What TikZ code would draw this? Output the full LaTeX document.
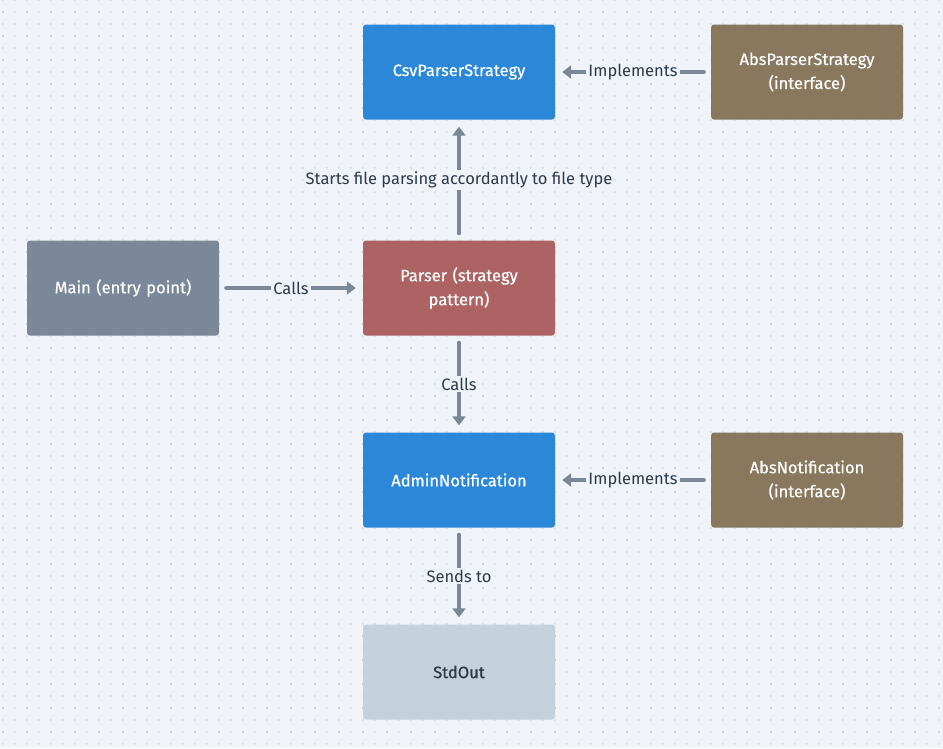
\documentclass[tikz,border=0pt]{standalone}
\usepackage{fontspec}
\setmainfont{Fira Sans}
\newfontfamily\boxfont[FakeBold=0.6]{Fira Sans}
\usetikzlibrary{arrows.meta}
\definecolor{bgcol}{HTML}{F0F3F7}
\definecolor{dotlight}{HTML}{DDE2E9}
\definecolor{dotdark}{HTML}{C8CFD9}
\definecolor{blueclass}{HTML}{2B88D8}
\definecolor{brownclass}{HTML}{89785D}
\definecolor{grayclass}{HTML}{7A8899}
\definecolor{redclass}{HTML}{AD6363}
\definecolor{outclass}{HTML}{C5D1DA}
\definecolor{linecol}{HTML}{7A8796}
\definecolor{textcol}{HTML}{2C3A4A}
\begin{document}
\begin{tikzpicture}[x=1pt,y=-1pt,
	box/.style={rounded corners=3pt, minimum width=192pt, minimum height=95pt, text width=175pt, align=center, text=white, font=\boxfont\fontsize{16.5}{24}\selectfont},
	conn/.style={line width=4pt, linecol, line cap=round, -{Triangle[width=13pt,length=9pt]}, shorten >=7pt, shorten <=7pt},
	lbl/.style={fill=bgcol, text=textcol, inner sep=2pt, font=\fontsize{16.5}{18}\selectfont}]
	\useasboundingbox (0,0) rectangle (943,748);
	\fill [bgcol] (0,0) rectangle (943,748);
	% dotted grid
	\foreach \x in {2.5,14.5,...,943} \foreach \y in {0,12,...,748}
		\fill [dotlight] (\x-1,\y-1) rectangle (\x+1,\y+1);
	\foreach \x in {2.5,26.5,...,943} \foreach \y in {12,36,...,748}
		\fill [dotdark] (\x-1,\y-1) rectangle (\x+1,\y+1);
	% classes
	\node [box, fill=blueclass] (csv) at (459,72) {CsvParserStrategy};
	\node [box, fill=brownclass] (absparser) at (807,72) {AbsParserStrategy\\(interface)};
	\node [box, fill=grayclass] (main) at (123,288) {Main (entry point)};
	\node [box, fill=redclass] (parser) at (459,288) {Parser (strategy\\pattern)};
	\node [box, fill=blueclass] (admin) at (459,480) {AdminNotification};
	\node [box, fill=brownclass] (absnotif) at (807,480) {AbsNotification\\(interface)};
	\node [box, fill=outclass, text=textcol] (stdout) at (459,672) {StdOut};
	% links
	\draw [conn] (absparser) -- node[lbl] {Implements} (csv);
	\draw [conn] (parser) -- node[lbl] {Starts file parsing accordantly to file type} (csv);
	\draw [conn] (main) -- node[lbl] {Calls} (parser);
	\draw [conn] (parser) -- node[lbl] {Calls} (admin);
	\draw [conn] (absnotif) -- node[lbl] {Implements} (admin);
	\draw [conn] (admin) -- node[lbl] {Sends to} (stdout);
\end{tikzpicture}
\end{document}
